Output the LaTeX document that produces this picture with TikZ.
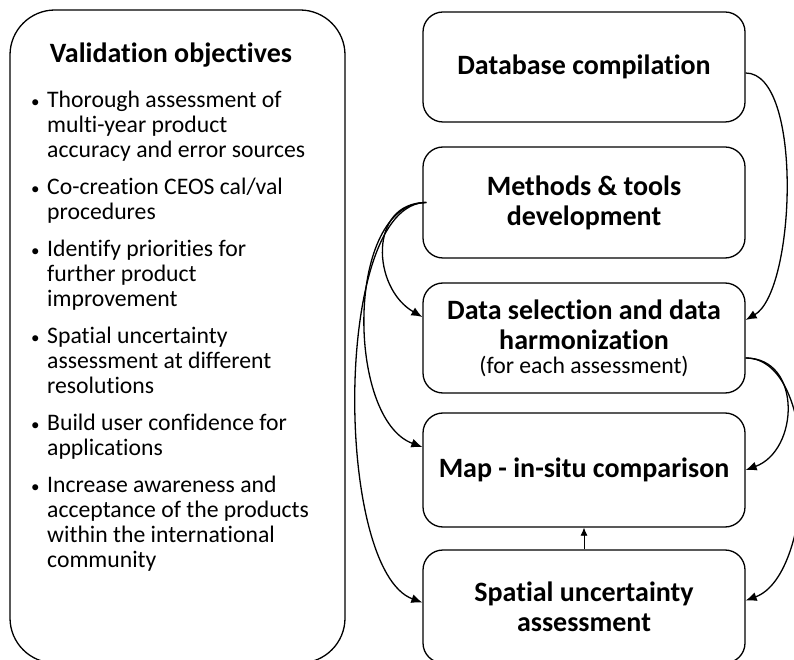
\documentclass[tikz,border=0pt]{standalone}
\usepackage{fontspec}
\setmainfont{Carlito}[Ligatures=NoCommon]
\usetikzlibrary{arrows.meta}
\newcommand{\objitem}{\makebox[16pt][l]{\fontsize{17}{17}\selectfont\textbullet}}
\newcommand{\objgap}{\hspace*{16pt}}
\tikzset{
  stagebox/.style={draw, line width=1.3pt, rounded corners=20pt, minimum width=322pt, align=center, font=\bfseries\fontsize{28}{30}\selectfont},
  flow/.style={line width=1.3pt, -{Latex[length=11pt,width=9pt]}}
}

\begin{document}
\begin{tikzpicture}[x=1pt,y=1pt]
  \useasboundingbox (0,0) rectangle (794,659);
  % objectives on the left
  \node[draw, line width=1.3pt, rounded corners=45pt, minimum width=335pt, minimum height=653pt] (objbox) at (177.5,322.5) {};
  \node[font=\bfseries\fontsize{28}{30}\selectfont] (objtitle) at (171,604) {Validation objectives};
  \node[anchor=north west, align=left, inner sep=0pt, font=\fontsize{23.7}{25}\selectfont] (objlist) at (31,568) {
    \objitem Thorough assessment of\\
    \objgap multi-year product\\
    \objgap accuracy and error sources\\[12pt]
    \objitem Co-creation CEOS cal/val\\
    \objgap procedures\\[12pt]
    \objitem Identify priorities for\\
    \objgap further product\\
    \objgap improvement\\[12pt]
    \objitem Spatial uncertainty\\
    \objgap assessment at different\\
    \objgap resolutions\\[12pt]
    \objitem Build user confidence for\\
    \objgap applications\\[12pt]
    \objitem Increase awareness and\\
    \objgap acceptance of the products\\
    \objgap within the international\\
    \objgap community};

  % workflow boxes
  \node[stagebox, minimum height=110pt] (dbase) at (584,592) {Database compilation};
  \node[stagebox, minimum height=111pt] (methods) at (584,456.5) {Methods \& tools\\development};
  \node[stagebox, minimum height=110pt] (datasel) at (584,321) {Data selection and data\\harmonization\\[-6pt]{\mdseries\fontsize{23.7}{25}\selectfont (for each assessment)}};
  \node[stagebox, minimum height=114pt] (mapcomp) at (584,189) {Map - in-situ comparison};
  \node[stagebox, minimum height=113pt] (spatial) at (584,52.5) {Spatial uncertainty\\assessment};

  % connectors
  \draw[flow] ([yshift=-6pt]dbase.east) to[out=0, in=30, looseness=0.6] ([yshift=18pt]datasel.east);
  \draw[flow] ([xshift=4pt]methods.west) to[out=180, in=150, looseness=1.3] ([yshift=21pt]datasel.west);
  \draw[flow] ([xshift=4pt]methods.west) to[out=180, in=160, looseness=0.85] ([yshift=23pt]mapcomp.west);
  \draw[flow] ([xshift=4pt]methods.west) to[out=180, in=160, looseness=0.6] ([yshift=4pt]spatial.west);
  \draw[flow] ([yshift=-20pt]datasel.east) to[out=0, in=20, looseness=1.3] (mapcomp.east);
  \draw[flow] ([yshift=-20pt]datasel.east) to[out=0, in=20, looseness=0.8] ([yshift=6pt]spatial.east);
  \draw[line width=0.8pt, -{Latex[length=8pt,width=7pt]}] (spatial.north) -- (mapcomp.south);
\end{tikzpicture}
\end{document}
